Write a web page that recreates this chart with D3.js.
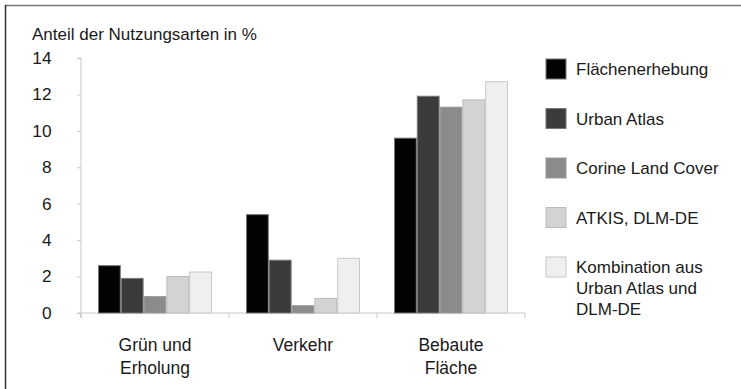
<!DOCTYPE html>
<html><head><meta charset="utf-8">
<script src="https://cdn.jsdelivr.net/npm/d3@7"></script>
<style>
html,body{margin:0;padding:0;background:#fff;}
text{font-family:"Liberation Sans",Arial,sans-serif;fill:#1a1a1a;}
</style></head>
<body>
<svg id="c" width="741" height="389"></svg>
<script>
const categories = [["Grün und","Erholung"],["Verkehr"],["Bebaute","Fläche"]];
const seriesNames = [["Flächenerhebung"],["Urban Atlas"],["Corine Land Cover"],["ATKIS, DLM-DE"],["Kombination aus","Urban Atlas und","DLM-DE"]];
const flaechenerhebung = [2.6, 5.4, 9.6];
const urbanAtlas = [1.9, 2.9, 11.9];
const corine = [0.9, 0.4, 11.3];
const atkis = [2.0, 0.8, 11.7];
const kombination = [2.25, 3.0, 12.7];
const yTicks = [0, 2, 4, 6, 8, 10, 12, 14];
const seriesValues = [flaechenerhebung, urbanAtlas, corine, atkis, kombination];
const fills = ["#030303","#3b3b3b","#8b8b8b","#d3d3d3","#efefef"];
const strokes = ["#777","#777","#999","#bbb","#c8c8c8"];

const svg = d3.select("#c");
// frame
svg.append("line").attr("x1",5).attr("x2",741).attr("y1",5.5).attr("y2",5.5).attr("stroke","#777").attr("stroke-width",1.5);
svg.append("line").attr("x1",5.5).attr("x2",5.5).attr("y1",5).attr("y2",389).attr("stroke","#333").attr("stroke-width",1.5);

const x0 = d3.scaleBand().domain(d3.range(categories.length)).range([81,525]).paddingInner(0).paddingOuter(0);
const x1 = d3.scaleBand().domain(d3.range(seriesValues.length)).range([17, x0.bandwidth()-17]);
const y = d3.scaleLinear().domain([0,14]).range([313,58]);

// y axis
const ya = svg.append("g").attr("transform","translate(81,0)")
  .call(d3.axisLeft(y).tickValues(yTicks).tickSize(4).tickPadding(24).tickFormat(d3.format("d")));
ya.select(".domain").attr("stroke","#c8c8c8").attr("d","M-4,58H0V318");
ya.selectAll(".tick line").attr("stroke","#c8c8c8");
ya.selectAll(".tick text").attr("font-size",16.5).attr("fill","#1a1a1a").attr("font-family","Liberation Sans, Arial, sans-serif").attr("transform","scale(1.05,1)");

// x axis line with category separators
const xa = svg.append("g").attr("transform","translate(0,313)");
xa.append("line").attr("x1",77).attr("x2",525).attr("y1",0).attr("y2",0).attr("stroke","#c8c8c8");
[0,1,2,3].forEach(i=>{
  const xx = i<3 ? x0(i) : x0(2)+x0.bandwidth();
  xa.append("line").attr("x1",xx).attr("x2",xx).attr("y1",0).attr("y2",5).attr("stroke","#c8c8c8");
});

// bars
const g = svg.append("g");
categories.forEach((c,ci)=>{
  seriesValues.forEach((s,si)=>{
    g.append("rect")
      .attr("x", x0(ci)+x1(si)+0.5)
      .attr("width", x1.bandwidth()-1)
      .attr("y", y(s[ci]))
      .attr("height", y(0)-y(s[ci]))
      .attr("fill", fills[si]).attr("stroke", strokes[si]).attr("stroke-width",1);
  });
  const t = svg.append("text").attr("text-anchor","middle").attr("font-size",17.5)
    .attr("x", x0(ci)+x0.bandwidth()/2).attr("y",351);
  c.forEach((line,li)=>t.append("tspan").attr("x",x0(ci)+x0.bandwidth()/2).attr("dy",li?22.5:0).text(line));
});

// title
svg.append("text").attr("x",32).attr("y",40).attr("font-size",17).text("Anteil der Nutzungsarten in %");

// legend
seriesNames.forEach((n,i)=>{
  const cy = 69 + i*49.5;
  svg.append("rect").attr("x",546).attr("y",cy-10).attr("width",20).attr("height",20)
    .attr("fill",fills[i]).attr("stroke",strokes[i]);
  const t = svg.append("text").attr("font-size",17).attr("x",576).attr("y",cy+6);
  n.forEach((line,li)=>t.append("tspan").attr("x",576).attr("dy",li?20.8:0).text(line));
});
</script>
</body></html>
